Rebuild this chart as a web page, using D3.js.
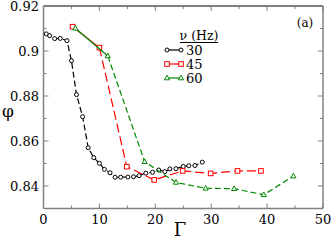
<!DOCTYPE html>
<html><head><meta charset="utf-8">
<script src="https://cdn.jsdelivr.net/npm/d3@7"></script>
<style>body{margin:0;background:#fff}svg{display:block}</style>
</head><body><svg id="c" width="332" height="241"></svg>
<script>
const g30 = [0.5,1.1,2.0,3.0,4.2,5.0,5.9,7.0,8.0,9.0,10.0,10.9,11.9,12.8,13.8,15.1,16.1,17.1,18.3,19.5,20.6,21.7,22.6,23.7,25.0,26.0,27.1,28.4];
const p30 = [0.9076,0.9068,0.9055,0.9056,0.9046,0.8957,0.8806,0.8708,0.8570,0.8526,0.8501,0.8474,0.8459,0.8439,0.8439,0.8440,0.8441,0.8446,0.8457,0.8461,0.8471,0.8464,0.8476,0.8477,0.8487,0.8490,0.8491,0.8506];
const g45 = [5.2,10.0,14.9,19.8,24.9,29.9,34.7,38.9];
const p45 = [0.9108,0.9015,0.8486,0.8427,0.8467,0.8456,0.8467,0.8467];
const g60 = [5.7,11.5,18.1,23.7,29.0,34.1,39.4,44.7];
const p60 = [0.9101,0.8978,0.8508,0.8416,0.8390,0.8388,0.8361,0.8444];
const xTicks = [0,10,20,30,40,50];
const yTicks = [0.84,0.86,0.88,0.90,0.92];
const yTickLabels = ["0.84","0.86","0.88","0.9","0.92"];
const legendTitle = "ν (Hz)";
const seriesNames = ["30","45","60"];

const svg = d3.select("#c");
const L=43.5,R=323,T=6,B=208.5;
const x = d3.scaleLinear().domain([0,50]).range([L,R]);
const y = d3.scaleLinear().domain([0.83,0.92]).range([B,T]);
function txt(xx,yy,s,size,anchor){
  return svg.append("text").attr("x",xx).attr("y",yy).attr("font-family","DejaVu Serif").attr("font-size",size).attr("text-anchor",anchor||"start").attr("fill","#000").text(s);
}

const axC="#808080";
svg.append("line").attr("x1",L).attr("x2",R).attr("y1",T).attr("y2",T).attr("stroke","#000").attr("stroke-width",1.2);
svg.append("line").attr("x1",L).attr("x2",R).attr("y1",B).attr("y2",B).attr("stroke",axC).attr("stroke-width",1.5);
svg.append("line").attr("x1",L).attr("x2",L).attr("y1",T).attr("y2",B).attr("stroke",axC).attr("stroke-width",1.5);
svg.append("line").attr("x1",R).attr("x2",R).attr("y1",T).attr("y2",B).attr("stroke",axC).attr("stroke-width",1.5);

const xMinor = d3.range(0,51,5), yMinor = d3.range(0.83,0.9201,0.01);
xMinor.forEach(v=>{const len = (v%10===0)?5:3;
  svg.append("line").attr("x1",x(v)).attr("x2",x(v)).attr("y1",B).attr("y2",B-len).attr("stroke",axC);
  svg.append("line").attr("x1",x(v)).attr("x2",x(v)).attr("y1",T).attr("y2",T+len).attr("stroke",axC);
});
yMinor.forEach(v=>{const major = Math.abs(Math.round(v*50)-v*50)<1e-6; const len = major?5:3;
  svg.append("line").attr("x1",L).attr("x2",L+len).attr("y1",y(v)).attr("y2",y(v)).attr("stroke",axC);
  svg.append("line").attr("x1",R).attr("x2",R-len).attr("y1",y(v)).attr("y2",y(v)).attr("stroke",axC);
});
xTicks.forEach(v=>txt(x(v),224,v,13,"middle"));
yTicks.forEach((v,i)=>txt(39,y(v)+5,yTickLabels[i],13,"end"));
txt(8,117,"φ",17,"middle");
txt(180,236,"Γ",18,"middle");
txt(305,27,"(a)",12,"middle");

const line = d3.line().x(d=>x(d[0])).y(d=>y(d[1]));
const series = [
  {g:g30,p:p30,c:"#000",dash:"6,3",m:"circle",solidFirst:false},
  {g:g45,p:p45,c:"#ff0000",dash:"9,4",m:"square",solidFirst:true},
  {g:g60,p:p60,c:"#008800",dash:"6,3",m:"tri",solidFirst:true}
];
function marker(s,cx,cy){
  if(s.m==="circle") svg.append("circle").attr("cx",cx).attr("cy",cy).attr("r",2).attr("fill","#fff").attr("stroke",s.c).attr("stroke-width",1);
  else if(s.m==="square") svg.append("rect").attr("x",cx-2.3).attr("y",cy-2.3).attr("width",4.6).attr("height",4.6).attr("fill","#fff").attr("stroke",s.c).attr("stroke-width",1);
  else svg.append("path").attr("d",`M${cx},${cy-2.8}L${cx+2.6},${cy+1.8}L${cx-2.6},${cy+1.8}Z`).attr("fill","#fff").attr("stroke",s.c).attr("stroke-width",1);
}
series.forEach(s=>{
  const pts = s.g.map((v,i)=>[v,s.p[i]]);
  if(s.solidFirst){
    svg.append("path").attr("d",line(pts.slice(0,2))).attr("fill","none").attr("stroke",s.c).attr("stroke-width",1.2);
    svg.append("path").attr("d",line(pts.slice(1))).attr("fill","none").attr("stroke",s.c).attr("stroke-width",1.2).attr("stroke-dasharray",s.dash);
  } else {
    svg.append("path").attr("d",line(pts)).attr("fill","none").attr("stroke",s.c).attr("stroke-width",1.2).attr("stroke-dasharray",s.dash);
  }
  pts.forEach(d=>marker(s,x(d[0]),y(d[1])));
});
txt(199,40,legendTitle,12.5,"middle");
svg.append("line").attr("x1",180).attr("x2",218).attr("y1",42.5).attr("y2",42.5).attr("stroke","#000").attr("stroke-width",1);
series.forEach((s,i)=>{
  const cy = 50+i*14;
  svg.append("line").attr("x1",167).attr("x2",181).attr("y1",cy).attr("y2",cy).attr("stroke",s.c).attr("stroke-width",1.2);
  marker(s,167,cy); marker(s,181,cy);
  txt(186,cy+5,seriesNames[i],13,"start");
});
</script></body></html>
